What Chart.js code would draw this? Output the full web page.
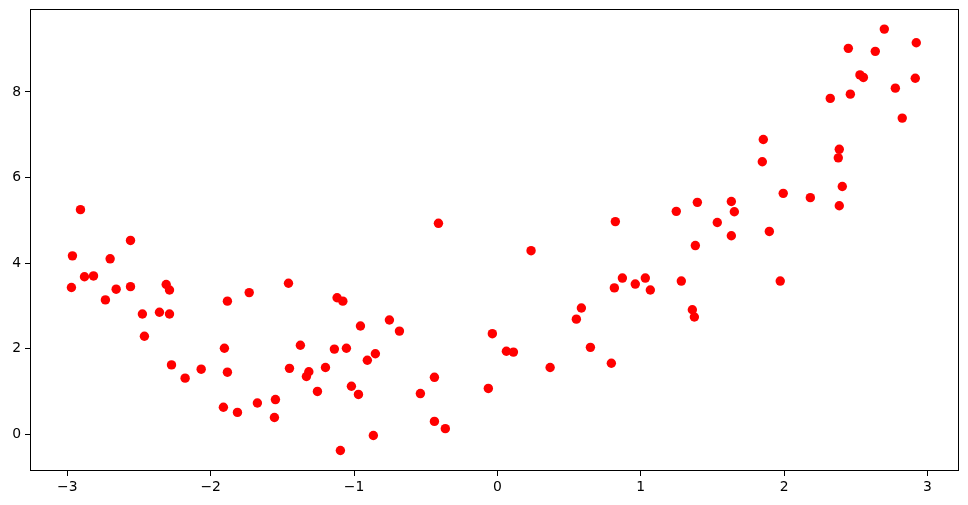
<!DOCTYPE html>
<html>
<head>
<meta charset="utf-8">
<script src="https://cdn.jsdelivr.net/npm/chart.js@4/dist/chart.umd.min.js"></script>
<style>
  body { margin: 0; padding: 0; background: #fff; }
  canvas { display: block; }
</style>
</head>
<body>
<canvas id="myChart" width="968" height="505"></canvas>
<script>
// data
const xValues = [
  -2.908, -2.964, -2.559, -2.701, -2.880, -2.817, -2.971, -2.659, -2.559, -2.734,
  -2.310, -2.287, -2.476, -2.357, -2.287, -2.462, -1.883, -1.731, -1.904, -2.273,
  -2.066, -2.178, -1.883, -1.911, -1.813, -1.674,
  -0.411, -1.457, -1.118, -1.078, -0.753, -0.955, -0.683, -1.374, -1.137, -1.053,
  -0.851, -0.907, -1.450, -1.315, -1.332, -1.199, -1.255, -1.018, -0.969, -0.439,
  -0.537, -1.548, -1.555, -0.439, -0.363, -0.865, -1.095,
  1.395, 1.248, 0.823, 1.381, 0.235, 0.872, 1.032, 0.962, 0.816, 1.067,
  1.283, 1.360, 1.374, 0.586, 0.551, -0.035, 0.063, 0.112, 0.649, 0.368,
  0.795, -0.063,
  2.699, 2.922, 2.448, 2.636, 2.529, 2.553, 2.915, 2.776, 2.462, 2.322,
  2.824, 1.855, 2.385, 2.378, 1.848, 2.406, 1.994, 2.183, 2.385, 1.632,
  1.653, 1.534, 1.632, 1.897, 1.973
];
const yValues = [
  5.25, 4.17, 4.53, 4.10, 3.68, 3.70, 3.43, 3.39, 3.45, 3.14,
  3.50, 3.37, 2.81, 2.85, 2.81, 2.29, 3.11, 3.31, 2.01, 1.62,
  1.52, 1.31, 1.45, 0.63, 0.51, 0.73,
  4.93, 3.53, 3.19, 3.11, 2.67, 2.53, 2.41, 2.08, 1.99, 2.01,
  1.88, 1.73, 1.54, 1.46, 1.35, 1.56, 1.00, 1.12, 0.93, 1.33,
  0.95, 0.81, 0.39, 0.30, 0.13, -0.03, -0.38,
  5.42, 5.21, 4.97, 4.41, 4.29, 3.65, 3.65, 3.51, 3.42, 3.37,
  3.58, 2.91, 2.74, 2.95, 2.69, 2.35, 1.94, 1.92, 2.03, 1.56,
  1.66, 1.07,
  9.47, 9.15, 9.02, 8.95, 8.40, 8.34, 8.32, 8.09, 7.95, 7.85,
  7.39, 6.89, 6.66, 6.46, 6.37, 5.79, 5.63, 5.53, 5.34, 5.44,
  5.20, 4.95, 4.64, 4.74, 3.58
];
const xTicks = [-3, -2, -1, 0, 1, 2, 3];
const yTicks = [0, 2, 4, 6, 8];

const points = xValues.map((x, i) => ({ x: x, y: yValues[i] }));

// full box around the plot area, like matplotlib spines
const frame = {
  id: 'frame',
  afterDraw(chart) {
    const a = chart.chartArea;
    const ctx = chart.ctx;
    ctx.save();
    ctx.strokeStyle = '#000';
    ctx.lineWidth = 1;
    ctx.strokeRect(a.left + 0.5, a.top + 0.5, a.right - a.left - 1, a.bottom - a.top - 1);
    ctx.restore();
  }
};

const minus = v => String(v).replace('-', '\u2212');
const tickFont = { family: 'DejaVu Sans', size: 13.9 };

// fixed axis sizes so the plot box sits where the reference has it
function fixX(s) {
  s.height = 34;
  s.paddingLeft = 0;
  s.paddingRight = 0;
}
function fixY(s) {
  s.width = 30;
  s.paddingTop = 0;
  s.paddingBottom = 0;
}

window.onload = function() {
  const ctx = document.getElementById('myChart').getContext('2d');
  new Chart(ctx, {
    type: 'scatter',
    data: {
      datasets: [{
        data: points,
        backgroundColor: '#ff0000',
        borderColor: '#ff0000',
        borderWidth: 0,
        pointRadius: 4.7,
        pointHoverRadius: 4.7
      }]
    },
    options: {
      responsive: false,
      animation: false,
      devicePixelRatio: 1,
      layout: { padding: { top: 9, right: 9, left: 0, bottom: 0 } },
      plugins: { legend: { display: false }, tooltip: { enabled: false } },
      scales: {
        x: {
          min: -3.26,
          max: 3.22,
          afterFit: fixX,
          afterBuildTicks: s => { s.ticks = xTicks.map(v => ({ value: v })); },
          border: { display: false },
          grid: { drawOnChartArea: false, drawTicks: true, tickLength: 5, color: '#000' },
          ticks: { color: '#000', font: tickFont, padding: 3, maxRotation: 0, callback: v => minus(v) }
        },
        y: {
          min: -0.86,
          max: 9.94,
          afterFit: fixY,
          afterBuildTicks: s => { s.ticks = yTicks.map(v => ({ value: v })); },
          border: { display: false },
          grid: { drawOnChartArea: false, drawTicks: true, tickLength: 5, color: '#000' },
          ticks: { color: '#000', font: tickFont, padding: 4, callback: v => minus(v) }
        }
      }
    },
    plugins: [frame]
  });
};
</script>
</body>
</html>
